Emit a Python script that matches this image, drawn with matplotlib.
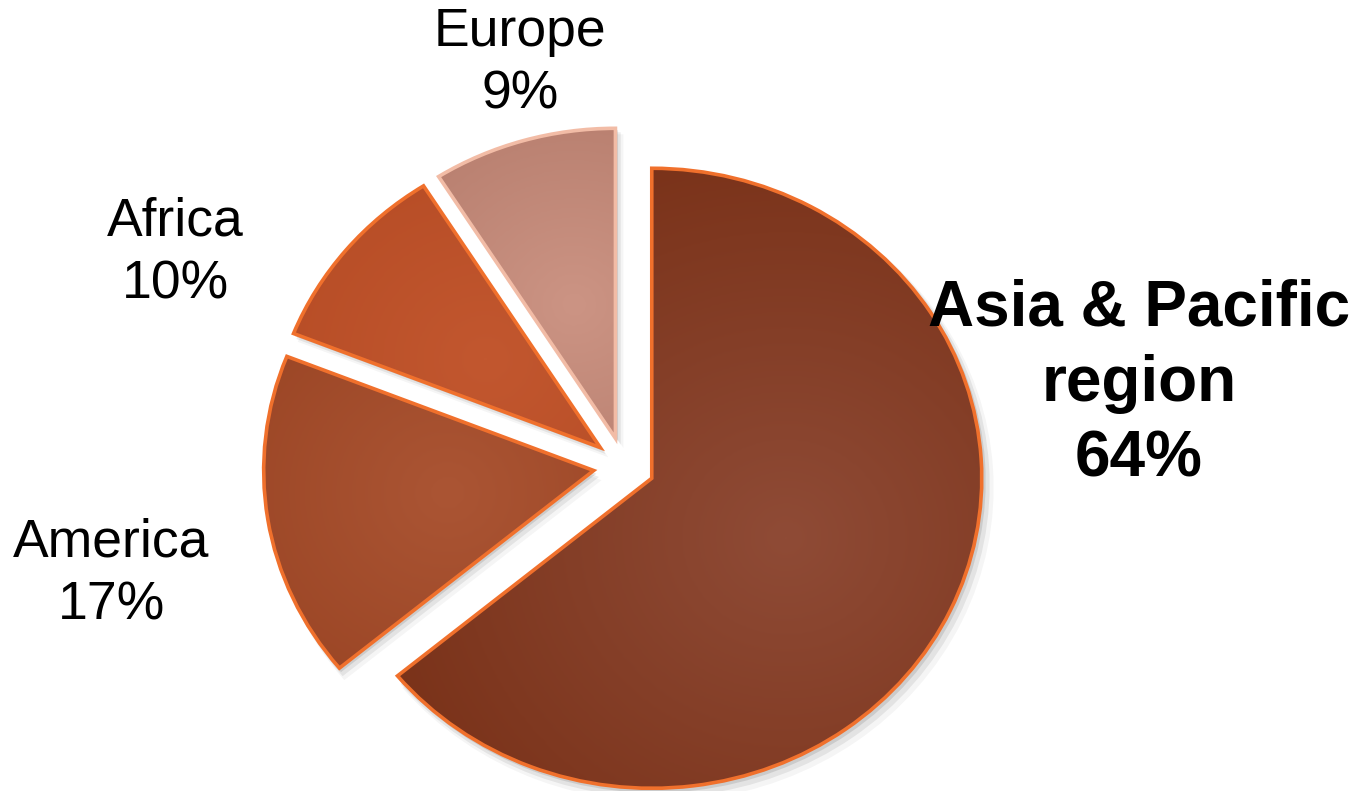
import numpy as np
import matplotlib
matplotlib.use("Agg")
import matplotlib.pyplot as plt
from matplotlib.patches import Wedge
from matplotlib.colors import LinearSegmentedColormap

plt.rcParams['font.family'] = ['Liberation Sans', 'DejaVu Sans']

# data
regions = ['Asia & Pacific\nregion', 'America', 'Africa', 'Europe']
shares = [64, 17, 10, 9]
bold = [True, False, False, False]

# colours: (inner, outer, edge)
fill_inner = ['#8f4b36', '#ab5534', '#c2572f', '#cc9484']
fill_outer = ['#7a3219', '#8f3a1a', '#ad441e', '#a46a5a']
edge_cols = ['#f0702c', '#f0702c', '#f0702c', '#f2bca6']

W, H = 1358, 791
fig = plt.figure(figsize=(W / 100, H / 100), dpi=100)
ax = fig.add_axes([0, 0, 1, 1])

# pixel geometry of the (slightly stretched) pie
cx_px, cy_px = 624, 466
rx_px, ry_px = 330, 310

wedges, _ = ax.pie(shares, explode=[0.093] * 4, startangle=90,
                   counterclock=False, radius=1, center=(0, 0),
                   colors=fill_inner,
                   wedgeprops=dict(linewidth=2.6, joinstyle='miter'))

ax.set_aspect('auto')
ax.axis('off')

# radial gradient inside each wedge + soft shadow
yy, xx = np.mgrid[-1:1:300j, -1:1:300j]
for i, w in enumerate(wedges):
    c = w.center
    cmap = LinearSegmentedColormap.from_list('g%d' % i, [fill_inner[i], fill_outer[i]])
    # gradient centred roughly in the middle of the slice
    mid = np.deg2rad((w.theta1 + w.theta2) / 2)
    ox, oy = 0.45 * np.cos(mid), 0.45 * np.sin(mid)
    d = np.sqrt((xx - ox) ** 2 + (yy - oy) ** 2)
    im = ax.imshow(np.clip(d / 1.3, 0, 1), cmap=cmap, origin='lower',
                   extent=(c[0] - 1, c[0] + 1, c[1] - 1, c[1] + 1),
                   aspect='auto', zorder=2, interpolation='bilinear')
    im.set_clip_path(w)
    w.set_facecolor('none')
    w.set_edgecolor(edge_cols[i])
    w.set_zorder(3)
    for k, a in enumerate([0.10, 0.07, 0.04]):
        off = 0.008 * (k + 1)
        sh = Wedge((c[0] + off, c[1] - off * 1.3), 1.0 + off * 0.5,
                   w.theta1, w.theta2, facecolor='#000000', alpha=a,
                   edgecolor='none', zorder=1)
        ax.add_patch(sh)

ax.set_xlim(-cx_px / rx_px, (W - cx_px) / rx_px)
ax.set_ylim(-(H - cy_px) / ry_px, cy_px / ry_px)

# labels (positions in figure pixels)
label_px = [(1139, 384), (111, 574), (175, 253), (520, 63)]
for i, (lx, ly) in enumerate(label_px):
    txt = regions[i] + '\n' + '%d%%' % shares[i]
    fig.text(lx / W, 1 - ly / H, txt, ha='center', va='center',
             fontsize=46 if bold[i] else 38.5,
             fontweight='bold' if bold[i] else 'normal',
             linespacing=1.34 if bold[i] else 1.32, color='black')

fig.savefig('out.png', dpi=100)
